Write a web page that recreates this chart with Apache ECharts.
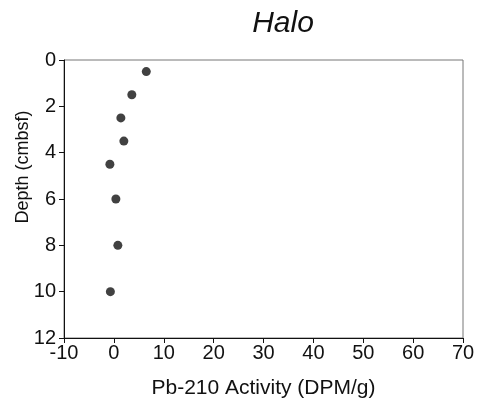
<!DOCTYPE html>
<html><head><meta charset="utf-8">
<script src="https://cdn.jsdelivr.net/npm/echarts@6/dist/echarts.min.js"></script>
<style>html,body{margin:0;padding:0;background:#fff}#c{width:483px;height:400px}</style>
</head><body><div id="c"></div>
<script>
var activity = [6.5, 3.6, 1.4, 2.0, -0.8, 0.4, 0.8, -0.7];
var depth = [0.5, 1.5, 2.5, 3.5, 4.5, 6, 8, 10];
var titleText = 'Halo';
var xName = 'Pb-210 Activity (DPM/g)';
var yName = 'Depth (cmbsf)';

var chart = echarts.init(document.getElementById('c'));
var font = 'Liberation Sans, Arial, sans-serif';
chart.setOption({
  animation: false,
  title: {text: titleText, left: 278, top: 4, textAlign: 'center',
    textStyle: {fontFamily: font, fontStyle: 'italic', fontWeight: 'normal', fontSize: 30, color: '#111'}},
  grid: {left: 64, top: 60, width: 399, height: 278, show: true, borderColor: '#777', borderWidth: 1,
    containLabel: false, outerBoundsMode: 'none'},
  xAxis: {type: 'value', min: -10, max: 70, interval: 10, name: xName, nameLocation: 'middle', nameGap: 40,
    nameMoveOverlap: false,
    nameTextStyle: {fontFamily: font, fontSize: 21, color: '#111'},
    axisLine: {onZero: false, lineStyle: {color: '#111'}}, axisTick: {show: true, length: 5, lineStyle: {color: '#111'}},
    axisLabel: {fontFamily: font, fontSize: 20, color: '#111', margin: 5}, splitLine: {show: false}},
  yAxis: {type: 'value', inverse: true, min: 0, max: 12, interval: 2, name: yName, nameLocation: 'middle', nameGap: 32,
    nameMoveOverlap: false,
    nameTextStyle: {fontFamily: font, fontSize: 18, color: '#111', padding: [0, 0, 0, 64]},
    axisLine: {onZero: false, lineStyle: {color: '#111'}}, axisTick: {show: true, length: 5, lineStyle: {color: '#111'}},
    axisLabel: {fontFamily: font, fontSize: 20, color: '#111', margin: 8}, splitLine: {show: false}},
  series: [{type: 'scatter', symbol: 'circle', symbolSize: 9, itemStyle: {color: '#111'},
    data: activity.map(function(v, i){return [v, depth[i]];})}]
});
</script></body></html>
